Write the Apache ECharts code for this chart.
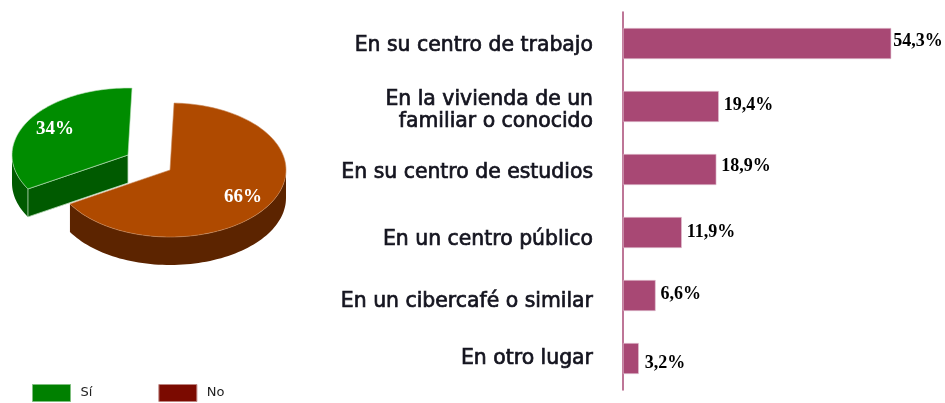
<!DOCTYPE html>
<html><head><meta charset="utf-8">
<style>html,body{margin:0;padding:0;background:#fff}#c{width:945px;height:403px}</style>
<script src="https://cdn.jsdelivr.net/npm/echarts@6/dist/echarts.min.js"></script>
</head><body><div id="c"></div>
<script>
const pieCategories = ['Sí', 'No'];
const pieValues = [34, 66];
const pieLabels = ['34%', '66%'];
const barCategories = ['En su centro de trabajo', 'En la vivienda de un\nfamiliar o conocido', 'En su centro de estudios', 'En un centro público', 'En un cibercafé o similar', 'En otro lugar'];
const barValues = [54.3, 19.4, 18.9, 11.9, 6.6, 3.2];
const barLabels = ['54,3%', '19,4%', '18,9%', '11,9%', '6,6%', '3,2%'];

const categoryNudge = [2, 4, 3, 7, 6, 0];
const valueNudge = [[-3, -2], [0, -1], [0, -3], [0, 0], [0, -1], [1, 5]];

const total = pieValues.reduce((a, b) => a + b, 0);
const startDeg = 2;
const geom = {
  'Sí': {cx: 128, cy: 155, top: '#008c00', wall: '#005a00', edge: '#bfe0bf', lx: 55, ly: 129},
  'No': {cx: 170, cy: 170, top: '#af4a00', wall: '#5c2400', edge: '#c98a5a', lx: 243, ly: 197}
};
const rx = 116, ry = 67, depth = 28;

function slice(idx) {
  const before = idx === 1 ? 0 : pieValues[1];
  const from = startDeg + before / total * 360;
  const to = from + pieValues[idx] / total * 360;
  return {from, to};
}
function pt(g, deg, dz) {
  const r = deg * Math.PI / 180;
  return [g.cx + rx * Math.sin(r), g.cy - ry * Math.cos(r) + (dz || 0)];
}
function arc(g, a, b, dz) {
  const out = [];
  const n = Math.max(2, Math.ceil(Math.abs(b - a) / 2));
  for (let i = 0; i <= n; i++) out.push(pt(g, a + (b - a) * i / n, dz));
  return out;
}
function renderSlice(idx) {
  return function () {
    const g = geom[pieCategories[idx]];
    const {from, to} = slice(idx);
    const children = [];
    const wa = Math.max(from, 90), wb = Math.min(to, 270);
    if (wb > wa) {
      children.push({type: 'polygon', shape: {points: arc(g, wa, wb, 0).concat(arc(g, wb, wa, depth))},
        style: {fill: g.wall}});
    }
    if (idx === 0) {
      const p = pt(g, from);
      children.push({type: 'polygon', shape: {points: [p, [g.cx, g.cy], [g.cx, g.cy + depth], [p[0], p[1] + depth]]},
        style: {fill: g.wall, stroke: g.edge, lineWidth: 0.8}});
    }
    children.push({type: 'polygon', shape: {points: [[g.cx, g.cy]].concat(arc(g, from, to, 0))},
      style: {fill: g.top, stroke: g.edge, lineWidth: 0.6}});
    children.push({type: 'text', style: {text: pieLabels[idx], x: g.lx, y: g.ly, align: 'center', verticalAlign: 'middle',
      fill: '#fff', font: 'bold 19px "Liberation Serif"'}});
    return {type: 'group', children};
  };
}

const labelBase = {fontFamily: 'DejaVu Sans', fontSize: 20.4, color: '#14141f', lineHeight: 22,
  textBorderColor: '#14141f', textBorderWidth: 0.7, align: 'right'};
const labelRich = {};
categoryNudge.forEach((n, i) => {
  labelRich['first' + i] = Object.assign({}, labelBase, {padding: [n * 2, 0, 0, 0]});
});
labelRich.rest = Object.assign({}, labelBase, {padding: [8, 0, 0, 0]});

const chart = echarts.init(document.getElementById('c'), null, {renderer: 'canvas'});
chart.setOption({
  animation: false,
  backgroundColor: '#fff',
  legend: {
    left: 32, top: 384, itemWidth: 38, itemHeight: 17, itemGap: 66, padding: 0,
    icon: 'rect',
    textStyle: {fontFamily: 'DejaVu Sans', fontSize: 13, color: '#222', padding: [0, 0, 0, 5]},
    data: [
      {name: 'Sí', itemStyle: {color: '#008000', borderColor: '#7fbf7f', borderWidth: 1}},
      {name: 'No', itemStyle: {color: '#7b0a00', borderColor: '#bd8480', borderWidth: 1}}
    ]
  },
  grid: {left: 623, top: 12, width: 296.4, height: 378, containLabel: false},
  xAxis: {type: 'value', min: 0, max: 60, show: false},
  yAxis: {
    type: 'category', inverse: true, data: barCategories,
    axisLine: {show: true, lineStyle: {color: '#a84874', width: 1.5}},
    axisTick: {show: false},
    axisLabel: {margin: 30, align: 'right', fontFamily: 'DejaVu Sans', fontSize: 20.4, lineHeight: 22, rich: labelRich,
      formatter: (v, i) => v.split('\n').map((l, k) => k === 0 ? `{first${i}|${l}}` : `{rest|${l}}`).join('\n')}
  },
  series: [
    {type: 'custom', name: 'Sí', coordinateSystem: 'none', silent: true, data: [[pieValues[0]]], renderItem: renderSlice(0), itemStyle: {color: '#008000'}},
    {type: 'custom', name: 'No', coordinateSystem: 'none', silent: true, data: [[pieValues[1]]], renderItem: renderSlice(1), itemStyle: {color: '#7b0a00'}},
    {type: 'bar', name: 'Lugar', barWidth: 31, xAxisIndex: 0, yAxisIndex: 0,
      data: barValues.map((v, i) => ({value: v, label: {offset: valueNudge[i]}})),
      itemStyle: {color: '#a84874', borderColor: '#e3c5d3', borderWidth: 0.6},
      label: {show: true, position: 'right', distance: 5, fontFamily: 'Liberation Serif', fontWeight: 'bold', fontSize: 18, color: '#000',
        formatter: p => barLabels[p.dataIndex]}}
  ]
});
</script></body></html>
